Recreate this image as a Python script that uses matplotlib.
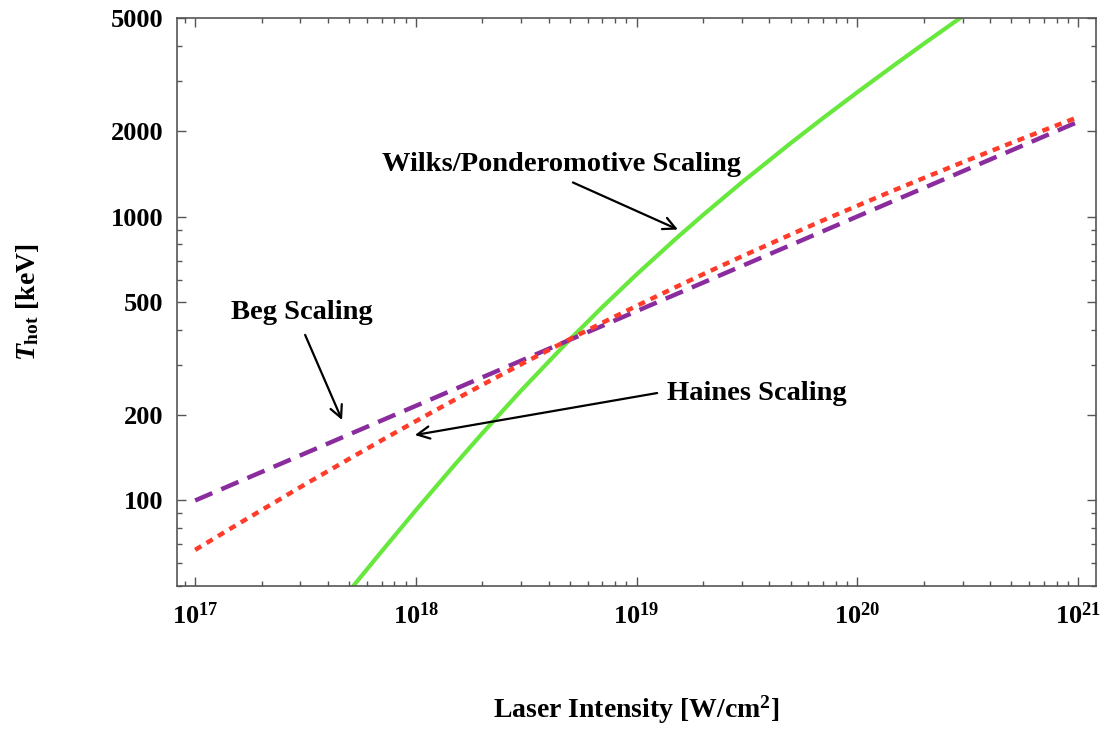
"""
Hot-electron temperature scalings versus laser intensity (log-log).
"""

import math

import matplotlib
matplotlib.use("Agg")
import matplotlib.pyplot as plt
from matplotlib.ticker import FixedLocator, FuncFormatter, LogLocator, NullFormatter

plt.rcParams["font.family"] = ["Liberation Serif", "DejaVu Serif"]
plt.rcParams["font.weight"] = "bold"
plt.rcParams["axes.labelweight"] = "bold"
plt.rcParams["mathtext.fontset"] = "custom"
plt.rcParams["mathtext.rm"] = "Liberation Serif:bold"
plt.rcParams["mathtext.it"] = "Liberation Serif:italic:bold"
plt.rcParams["mathtext.bf"] = "Liberation Serif:bold"

# intensity in W/cm^2
intensity = [1e17, 1.5e17, 2e17, 3e17, 5e17, 7e17,
             1e18, 1.5e18, 2e18, 3e18, 5e18, 7e18,
             1e19, 1.5e19, 2e19, 3e19, 5e19, 7e19,
             1e20, 1.5e20, 2e20, 3e20, 5e20, 7e20, 1e21]

# T_hot in keV
beg = [100.0, 114.5, 126.0, 144.2, 171.0, 191.3,
       215.4, 246.6, 271.4, 310.7, 368.4, 412.1,
       464.2, 531.3, 584.8, 669.4, 793.7, 887.9,
       1000.0, 1144.7, 1259.9, 1442.2, 1710.0, 1912.9, 2154.4]

haines = [67.0, 81.0, 92.5, 111.5, 140.3, 162.9,
          190.3, 226.3, 255.3, 301.8, 370.4, 422.5,
          484.2, 563.4, 625.9, 723.7, 864.5, 969.2,
          1091.0, 1245.7, 1366.0, 1552.0, 1817.0, 2011.6, 2238.0]

wilks_intensity = [3e17, 5e17, 7e17, 1e18, 1.5e18, 2e18, 3e18, 5e18, 7e18,
                   1e19, 1.5e19, 2e19, 3e19, 5e19, 7e19,
                   1e20, 1.5e20, 2e20, 3e20]
wilks = [29.4, 48.1, 66.2, 92.4, 133.6, 172.4, 243.9, 369.8, 479.8,
         625.0, 832.6, 1012.0, 1319.0, 1814.0, 2221.5,
         2738.0, 3451.0, 4055.0, 5069.0]

y_major = [100, 200, 500, 1000, 2000, 5000]
x_major = [1e17, 1e18, 1e19, 1e20, 1e21]

fig = plt.figure(figsize=(11.1, 7.3), dpi=100)
ax = fig.add_axes([0.1595, 0.1973, 0.8279, 0.7780])

ax.plot(wilks_intensity, wilks, color="#66e83c", lw=3.0, solid_capstyle="butt")
ax.plot(intensity, beg, color="#8a2c9e", lw=3.2, dashes=(4.2, 2.2),
        dash_capstyle="butt")
ax.plot(intensity, haines, color="#ff3b2a", lw=3.2, dashes=(1.6, 1.4),
        dash_capstyle="butt")

ax.set_xscale("log")
ax.set_yscale("log")
ax.set_xlim(10 ** 16.918, 10 ** 21.082)
ax.set_ylim(50, 5000)

ax.xaxis.set_major_locator(FixedLocator(x_major))
ax.xaxis.set_major_formatter(FuncFormatter(lambda v, _: r"$10^{%d}$" % round(math.log10(v))))
ax.xaxis.set_minor_locator(LogLocator(base=10, subs=range(2, 10), numticks=20))
ax.xaxis.set_minor_formatter(NullFormatter())

ax.yaxis.set_major_locator(FixedLocator(y_major))
ax.yaxis.set_major_formatter(FuncFormatter(lambda v, _: "%d" % v))
ax.yaxis.set_minor_locator(LogLocator(base=10, subs=range(2, 10), numticks=20))
ax.yaxis.set_minor_formatter(NullFormatter())

ax.tick_params(which="both", direction="in", top=True, right=True,
               color="#555555", width=1.0)
ax.tick_params(which="major", length=6.5, labelsize=19, pad=10)
ax.tick_params(which="minor", length=3.5)
ax.tick_params(axis="x", which="major", pad=12)
for spine in ax.spines.values():
    spine.set_color("#555555")
    spine.set_linewidth(1.2)

ax.set_xlabel("Laser Intensity [W/cm$^2$]", fontsize=20, labelpad=46)
ax.set_ylabel(r"$T_{\mathrm{hot}}$ [keV]", fontsize=20, labelpad=50)

arrow = dict(arrowstyle="->", color="black", lw=1.6, mutation_scale=22,
             shrinkA=0, shrinkB=0)

ax.text(4.55e18, 1527, "Wilks/Ponderomotive Scaling", fontsize=20.5,
        ha="center", va="center")
ax.annotate("", xy=(1.54e19, 900), xytext=(5.15e18, 1318), arrowprops=arrow)

ax.text(3.05e17, 458, "Beg Scaling", fontsize=20.5, ha="center", va="center")
ax.annotate("", xy=(4.63e17, 192), xytext=(3.15e17, 383), arrowprops=arrow)

ax.text(1.37e19, 239, "Haines Scaling", fontsize=20.5, ha="left", va="center")
ax.annotate("", xy=(9.9e17, 170), xytext=(1.24e19, 239), arrowprops=arrow)

fig.savefig("out.png", dpi=100)
